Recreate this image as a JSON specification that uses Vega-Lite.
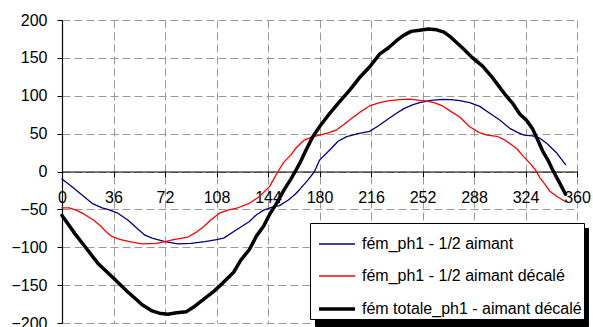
{
  "$schema": "https://vega.github.io/schema/vega-lite/v6.json",
  "width": 515,
  "height": 303,
  "autosize": {"type": "none"},
  "padding": {"left": 62, "top": 20, "right": 16, "bottom": 4},
  "config": {"view": {"stroke": null}, "font": "Liberation Sans", "axis": {"labelOverlap": false}},
  "data": {"values": [
    {"s":"b","a":0,"v":-10},{"s":"b","a":7,"v":-20},{"s":"b","a":14,"v":-31},{"s":"b","a":21,"v":-42},{"s":"b","a":28,"v":-48},{"s":"b","a":32,"v":-50},{"s":"b","a":39,"v":-55},{"s":"b","a":46,"v":-64},{"s":"b","a":53,"v":-76},{"s":"b","a":58,"v":-84},{"s":"b","a":63,"v":-88},{"s":"b","a":72,"v":-92.5},{"s":"b","a":81,"v":-95.5},{"s":"b","a":90,"v":-95},{"s":"b","a":100,"v":-92.5},{"s":"b","a":108,"v":-90},{"s":"b","a":113,"v":-88},{"s":"b","a":122,"v":-77},{"s":"b","a":131,"v":-66},{"s":"b","a":136,"v":-57},{"s":"b","a":141,"v":-51},{"s":"b","a":147,"v":-47},{"s":"b","a":152,"v":-45},{"s":"b","a":158,"v":-38},{"s":"b","a":163,"v":-30},{"s":"b","a":166,"v":-24},{"s":"b","a":172,"v":-11},{"s":"b","a":176.5,"v":0},{"s":"b","a":180,"v":15},{"s":"b","a":187,"v":28},{"s":"b","a":193,"v":40},{"s":"b","a":199,"v":46},{"s":"b","a":207,"v":50},{"s":"b","a":215,"v":53},{"s":"b","a":221,"v":60},{"s":"b","a":227,"v":68},{"s":"b","a":233,"v":76},{"s":"b","a":239,"v":83},{"s":"b","a":245,"v":88},{"s":"b","a":250,"v":91},{"s":"b","a":258,"v":94},{"s":"b","a":266,"v":95.3},{"s":"b","a":272,"v":95},{"s":"b","a":278,"v":93.5},{"s":"b","a":285,"v":91},{"s":"b","a":292,"v":86},{"s":"b","a":299,"v":77},{"s":"b","a":306,"v":68},{"s":"b","a":313,"v":57},{"s":"b","a":318,"v":52},{"s":"b","a":323,"v":48},{"s":"b","a":329,"v":47},{"s":"b","a":334,"v":44},{"s":"b","a":339,"v":37},{"s":"b","a":346,"v":24},{"s":"b","a":352,"v":9},
    {"s":"r","a":0,"v":-48},{"s":"r","a":5,"v":-48},{"s":"r","a":10,"v":-51},{"s":"r","a":16,"v":-57},{"s":"r","a":22,"v":-64},{"s":"r","a":27,"v":-72},{"s":"r","a":31,"v":-80},{"s":"r","a":35,"v":-86},{"s":"r","a":41,"v":-90},{"s":"r","a":48,"v":-93},{"s":"r","a":56,"v":-95.5},{"s":"r","a":66,"v":-95},{"s":"r","a":72,"v":-92.5},{"s":"r","a":78,"v":-90},{"s":"r","a":88,"v":-86.5},{"s":"r","a":94,"v":-80},{"s":"r","a":99,"v":-73},{"s":"r","a":104,"v":-64},{"s":"r","a":110,"v":-55},{"s":"r","a":116,"v":-51},{"s":"r","a":122,"v":-48.5},{"s":"r","a":131,"v":-42},{"s":"r","a":138,"v":-33},{"s":"r","a":145,"v":-20},{"s":"r","a":148,"v":-10},{"s":"r","a":151,"v":0},{"s":"r","a":155,"v":12},{"s":"r","a":160,"v":22},{"s":"r","a":164,"v":32},{"s":"r","a":169,"v":41},{"s":"r","a":174,"v":45},{"s":"r","a":180,"v":48},{"s":"r","a":186,"v":51},{"s":"r","a":192,"v":55},{"s":"r","a":197,"v":62},{"s":"r","a":201,"v":68},{"s":"r","a":208,"v":78},{"s":"r","a":215,"v":86.5},{"s":"r","a":222,"v":91},{"s":"r","a":229,"v":93.5},{"s":"r","a":236,"v":95},{"s":"r","a":243,"v":95.5},{"s":"r","a":250,"v":94},{"s":"r","a":255,"v":93},{"s":"r","a":260,"v":91},{"s":"r","a":266,"v":86.5},{"s":"r","a":272,"v":79},{"s":"r","a":278,"v":72},{"s":"r","a":285,"v":59},{"s":"r","a":291,"v":52},{"s":"r","a":297,"v":48},{"s":"r","a":304,"v":46.5},{"s":"r","a":309,"v":42},{"s":"r","a":313,"v":37},{"s":"r","a":318,"v":30},{"s":"r","a":322,"v":21},{"s":"r","a":327,"v":11},{"s":"r","a":331,"v":2},{"s":"r","a":334,"v":-8},{"s":"r","a":338,"v":-18},{"s":"r","a":341,"v":-26},{"s":"r","a":346,"v":-33},{"s":"r","a":352,"v":-40},
    {"s":"k","a":0,"v":-58},{"s":"k","a":3,"v":-66},{"s":"k","a":9,"v":-82},{"s":"k","a":16,"v":-99},{"s":"k","a":25,"v":-121},{"s":"k","a":35,"v":-139},{"s":"k","a":46,"v":-159},{"s":"k","a":52,"v":-169},{"s":"k","a":56,"v":-176},{"s":"k","a":63,"v":-184},{"s":"k","a":68,"v":-187},{"s":"k","a":74,"v":-188.5},{"s":"k","a":80,"v":-186.5},{"s":"k","a":87,"v":-185},{"s":"k","a":92,"v":-179},{"s":"k","a":98,"v":-170},{"s":"k","a":105,"v":-160},{"s":"k","a":112,"v":-148},{"s":"k","a":120,"v":-133},{"s":"k","a":125,"v":-117},{"s":"k","a":131,"v":-103},{"s":"k","a":136,"v":-85},{"s":"k","a":141,"v":-72},{"s":"k","a":145,"v":-57},{"s":"k","a":150,"v":-42},{"s":"k","a":155,"v":-25},{"s":"k","a":160,"v":-10},{"s":"k","a":163,"v":0},{"s":"k","a":166.5,"v":12},{"s":"k","a":170,"v":26},{"s":"k","a":175,"v":45},{"s":"k","a":180,"v":59},{"s":"k","a":186,"v":74},{"s":"k","a":193,"v":90},{"s":"k","a":201,"v":107},{"s":"k","a":208,"v":124},{"s":"k","a":215,"v":138},{"s":"k","a":222,"v":155},{"s":"k","a":228,"v":163},{"s":"k","a":234,"v":173},{"s":"k","a":239,"v":180},{"s":"k","a":244,"v":185},{"s":"k","a":250,"v":186.5},{"s":"k","a":256,"v":188},{"s":"k","a":262,"v":187},{"s":"k","a":267,"v":184},{"s":"k","a":272,"v":177},{"s":"k","a":280,"v":163},{"s":"k","a":287,"v":150},{"s":"k","a":294,"v":139},{"s":"k","a":300,"v":126},{"s":"k","a":306,"v":111},{"s":"k","a":310,"v":101},{"s":"k","a":315,"v":90},{"s":"k","a":320,"v":76},{"s":"k","a":325,"v":67},{"s":"k","a":329,"v":56},{"s":"k","a":333,"v":40},{"s":"k","a":336,"v":27},{"s":"k","a":340,"v":14},{"s":"k","a":343,"v":2},{"s":"k","a":347,"v":-12},{"s":"k","a":352,"v":-30}
  ]},
  "layer": [
    {
      "mark": {"type": "line", "strokeJoin": "round", "strokeCap": "round"},
      "encoding": {
        "x": {"field": "a", "type": "quantitative",
          "scale": {"domain": [0, 360], "nice": false},
          "axis": {"orient": "bottom", "values": [0,36,72,108,144,180,216,252,288,324,360], "grid": true, "gridColor": "#999999", "gridDash": [8, 4], "gridWidth": 1, "domain": false, "ticks": false, "labels": false, "title": null}},
        "y": {"field": "v", "type": "quantitative",
          "scale": {"domain": [-200, 200], "nice": false},
          "axis": {"values": [-200,-150,-100,-50,0,50,100,150,200], "grid": true, "gridColor": "#999999", "gridDash": [8, 4], "gridWidth": 1, "domain": true, "domainColor": "#000000", "domainWidth": 1.2, "ticks": true, "tickColor": "#000000", "tickSize": 5, "labelFontSize": 16, "labelColor": "#000000", "labelPadding": 10, "labelFont": "Liberation Sans", "labelOverlap": false, "labelFlush": false, "labelBound": false, "title": null}},
        "color": {"field": "s", "type": "ordinal",
          "scale": {"type": "ordinal", "domain": ["b", "r", "k"], "range": ["#000080", "#ff0000", "#000000"]},
          "legend": {"title": null, "orient": "none", "legendX": 248, "legendY": 203, "zindex": 2,
            "labelExpr": "datum.value == 'b' ? 'fém_ph1 - 1/2 aimant' : datum.value == 'r' ? 'fém_ph1 - 1/2 aimant décalé' : 'fém totale_ph1 - aimant décalé'",
            "symbolType": "stroke", "symbolSize": 1300, "symbolOffset": 5, "labelFontSize": 16, "labelFont": "Liberation Sans", "labelColor": "#000000", "labelLimit": 400, "labelOffset": 5,
            "padding": 2, "rowPadding": 5, "strokeColor": "#000000", "fillColor": "#ffffff", "cornerRadius": 0}},
        "strokeWidth": {"field": "s", "type": "ordinal",
          "scale": {"type": "ordinal", "domain": ["b", "r", "k"], "range": [1.3, 1.3, 3.5]},
          "legend": {"title": null}},
        "opacity": {"field": "s", "type": "ordinal",
          "scale": {"type": "ordinal", "domain": ["k", "r", "b"], "range": [1, 1, 1]},
          "legend": {"title": null, "orient": "none", "legendX": 253, "legendY": 208, "zindex": 0,
            "labelExpr": "' '",
            "symbolType": "stroke", "symbolSize": 66564, "symbolOffset": 5, "symbolStrokeColor": "#000000", "symbolStrokeWidth": 1, "clipHeight": 28, "labelFontSize": 16, "labelFont": "Liberation Sans", "labelColor": "#000000", "labelLimit": 400, "labelOffset": 5,
            "padding": 2, "rowPadding": 5, "strokeColor": "#000000", "fillColor": "#000000", "cornerRadius": 0}},
        "order": {"field": "a", "type": "quantitative"}
      }
    },
    {
      "mark": {"type": "line", "opacity": 0},
      "encoding": {
        "x": {"field": "a", "type": "quantitative",
          "scale": {"domain": [0, 360], "nice": false},
          "axis": {"orient": "bottom", "values": [0,36,72,108,144,180,216,252,288,324,360], "grid": false, "offset": -151.5, "domain": true, "domainColor": "#000000", "domainWidth": 1.2, "ticks": true, "tickColor": "#000000", "tickSize": 5, "labelFontSize": 16, "labelColor": "#000000", "labelPadding": 13, "labelFont": "Liberation Sans", "labelFlush": false, "labelOverlap": false, "title": null}},
        "y": {"field": "v", "type": "quantitative",
          "axis": {"values": [-200,-150,-100,-50,0,50,100,150,200], "grid": true, "gridColor": "#999999", "gridDash": [8, 4], "gridWidth": 1, "domain": true, "domainColor": "#000000", "domainWidth": 1.2, "ticks": true, "tickColor": "#000000", "tickSize": 5, "labelFontSize": 16, "labelColor": "#000000", "labelPadding": 10, "labelFont": "Liberation Sans", "labelOverlap": false, "labelFlush": false, "labelBound": false, "title": null}},
        "detail": {"field": "s", "type": "nominal"}
      }
    }
  ],
  "resolve": {"axis": {"x": "independent"}}
}
